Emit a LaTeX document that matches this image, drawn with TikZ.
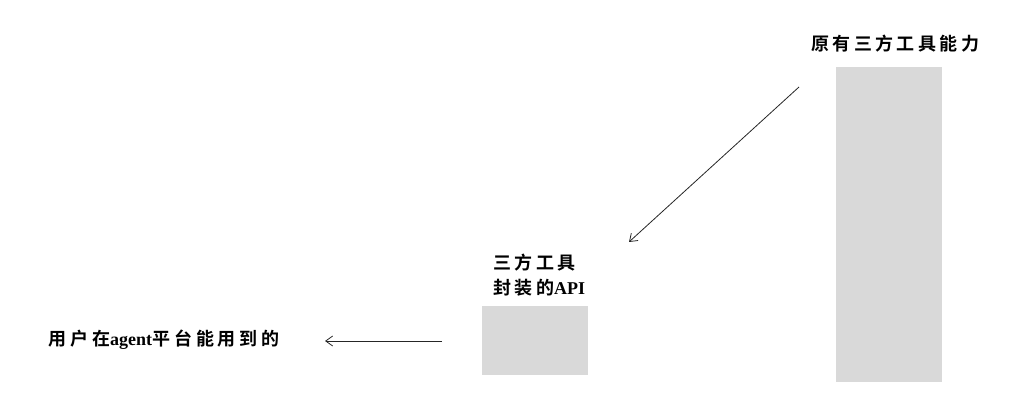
\documentclass[tikz,border=0pt]{standalone}
\usepackage{fontspec}
\newfontfamily\cjkwide{Noto Sans CJK SC}[BoldFont={* Bold},LetterSpace=19]
\newfontfamily\cjkmid{Noto Sans CJK SC}[BoldFont={* Bold},LetterSpace=22]
\newfontfamily\lat{Liberation Serif}
\newcommand{\latw}[1]{{\lat\bfseries #1}}
\usetikzlibrary{arrows.meta}
\begin{document}
\begin{tikzpicture}[x=1pt,y=-1pt,
  bar/.style={draw=none,fill=black!15,inner sep=0pt,anchor=north west},
  lbl/.style={inner sep=0pt,text=black},
  conn/.style={draw=black!85,line width=0.8pt,-{Straight Barb[length=7pt,width=10pt]}}]
\useasboundingbox (0,0) rectangle (1023,419);
\node[bar,minimum width=106pt,minimum height=315pt] (big) at (836,67) {};
\node[bar,minimum width=106pt,minimum height=69pt] (small) at (482,306) {};
\node[lbl,anchor=west,font=\fontsize{18}{25}\selectfont\cjkwide\bfseries] (t1) at (811,44) {原有三方工具能力};
\node[lbl,anchor=west,align=left,font=\fontsize{18}{25}\selectfont\cjkwide\bfseries] (t2) at (493,275) {三方工具\\封装的\latw{API}};
\node[lbl,anchor=west,font=\fontsize{18}{25}\selectfont\cjkmid\bfseries] (t3) at (48,340) {用户在\latw{agent}平台能用到的};
\coordinate (a1s) at (799,87);
\coordinate (a1e) at (629,242);
\coordinate (a2s) at (442,341);
\coordinate (a2e) at (325,341);
\draw[conn] (a1s) -- (a1e);
\draw[conn] (a2s) -- (a2e);
\end{tikzpicture}
\end{document}
